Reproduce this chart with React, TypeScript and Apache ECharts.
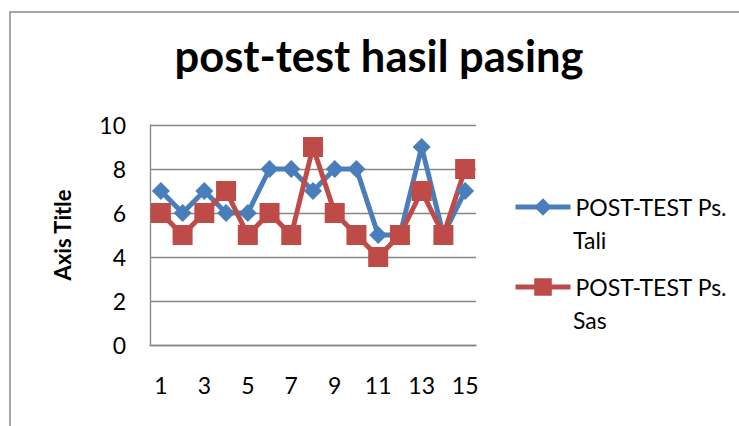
import React, { useEffect, useRef } from 'react';
import * as echarts from 'echarts';

const categories = ['1', '2', '3', '4', '5', '6', '7', '8', '9', '10', '11', '12', '13', '14', '15'];
const taliValues = [7, 6, 7, 6, 6, 8, 8, 7, 8, 8, 5, 5, 9, 5, 7];
const sasValues = [6, 5, 6, 7, 5, 6, 5, 9, 6, 5, 4, 5, 7, 5, 8];
const seriesNames = ['POST-TEST Ps. Tali', 'POST-TEST Ps. Sas'];
const legendFirstLine = 'POST-TEST Ps.';
const legendSecondLines = ['Tali', 'Sas'];
const titleText = 'post-test hasil pasing';
const yAxisTitle = 'Axis Title';
const yMin = 0;
const yMax = 10;
const yInterval = 2;

const BLUE = '#4A7EBB';
const RED = '#BE4B48';
const GRAY = '#868686';
const FONT = 'Lato, "Noto Sans", sans-serif';

export default function App() {
  const ref = useRef<HTMLDivElement>(null);
  useEffect(() => {
    const chart = echarts.init(ref.current!, null, { renderer: 'svg' });
    const legendCommon = {
      left: 513,
      padding: 0,
      itemWidth: 55,
      itemHeight: 22,
      lineStyle: { width: 5 },
      formatter: () => legendFirstLine,
      textStyle: { fontSize: 23, fontFamily: FONT, color: '#000', lineHeight: 30 },
    };
    chart.setOption({
      animation: false,
      backgroundColor: '#ffffff',
      title: {
        text: titleText,
        left: 379,
        textAlign: 'center',
        top: 33,
        padding: 0,
        textStyle: { fontSize: 43.5, fontWeight: 'bold', fontFamily: FONT, color: '#000' },
      },
      grid: { left: 150, right: 263, top: 125, bottom: 81, containLabel: false },
      legend: [
        { ...legendCommon, data: [seriesNames[0]], top: 192 },
        { ...legendCommon, data: [seriesNames[1]], top: 272 },
      ],
      graphic: [
        {
          type: 'rect',
          shape: { x: 10, y: 12, width: 800, height: 500 },
          style: { fill: 'none', stroke: '#8a8a8a', lineWidth: 1.5 },
          silent: true,
          z: -1,
        },
        {
          type: 'text',
          x: 573,
          y: 240,
          style: { text: legendSecondLines[0], fontSize: 23, fontFamily: FONT, fill: '#000', verticalAlign: 'middle' },
        },
        {
          type: 'text',
          x: 573,
          y: 320,
          style: { text: legendSecondLines[1], fontSize: 23, fontFamily: FONT, fill: '#000', verticalAlign: 'middle' },
        },
      ],
      xAxis: {
        type: 'category',
        data: categories,
        boundaryGap: true,
        axisLine: { show: true, lineStyle: { color: GRAY, width: 1.3 } },
        axisTick: { show: false },
        axisLabel: { interval: 1, margin: 28, fontSize: 23, fontFamily: FONT, color: '#000' },
      },
      yAxis: {
        type: 'value',
        min: yMin,
        max: yMax,
        interval: yInterval,
        name: yAxisTitle,
        nameLocation: 'middle',
        nameRotate: 90,
        nameGap: 77,
        nameTextStyle: { fontSize: 22, fontWeight: 'bold', fontFamily: FONT, color: '#000' },
        axisLine: { show: true, lineStyle: { color: GRAY, width: 1.3 } },
        axisTick: { show: false },
        axisLabel: { margin: 24, fontSize: 23, fontFamily: FONT, color: '#000' },
        splitLine: { show: true, lineStyle: { color: GRAY, width: 1.3 } },
      },
      series: [
        {
          name: seriesNames[0],
          type: 'line',
          data: taliValues,
          symbol: 'diamond',
          symbolSize: [18, 18],
          showAllSymbol: true,
          lineStyle: { color: BLUE, width: 5 },
          itemStyle: { color: BLUE },
        },
        {
          name: seriesNames[1],
          type: 'line',
          data: sasValues,
          symbol: 'rect',
          symbolSize: 20,
          showAllSymbol: true,
          lineStyle: { color: RED, width: 5 },
          itemStyle: { color: RED },
        },
      ],
    });
    return () => chart.dispose();
  }, []);
  return (
    <div
      ref={ref}
      style={{ position: 'absolute', left: 0, top: 0, width: 739, height: 426, background: '#fff' }}
    />
  );
}
